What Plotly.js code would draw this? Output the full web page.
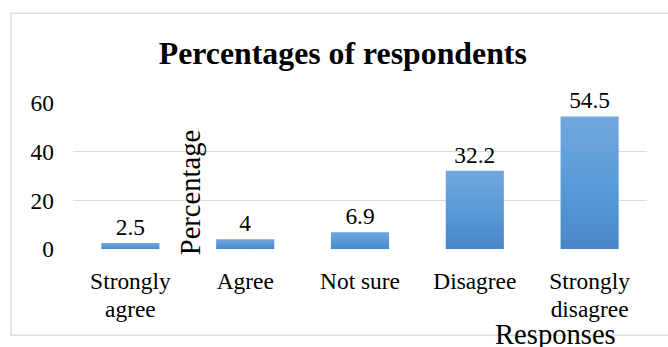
<!DOCTYPE html>
<html>
<head>
<meta charset="utf-8">
<script src="https://cdn.plot.ly/plotly-3.0.1.min.js"></script>
<style>
  html, body { margin: 0; padding: 0; background: #ffffff; }
  #chart { width: 668px; height: 347px; }
</style>
</head>
<body>
<div id="chart"></div>
<script>
// Survey responses and their share of respondents (%)
const categories = ["Strongly agree", "Agree", "Not sure", "Disagree", "Strongly disagree"];
const tickLabels = ["Strongly<br>agree", "Agree", "Not sure", "Disagree", "Strongly<br>disagree"];
const percentages = [2.5, 4, 6.9, 32.2, 54.5];
const yTicks = [0, 20, 40, 60];

const serif = "Liberation Serif, Times New Roman, serif";
const W = 668, H = 347;
const plotL = 73, plotR = 646.7, plotT = 103, plotB = 249.5;
const plotW = plotR - plotL, plotH = plotB - plotT;
// pixel -> paper helpers for the frame and axis titles
const px = x => (x - plotL) / plotW;
const py = y => (plotB - y) / plotH;

const trace = {
  type: "bar",
  x: categories,
  y: percentages,
  text: percentages.map(v => String(v)),
  textposition: "outside",
  textfont: { family: serif, size: 23.4, color: "#000000" },
  constraintext: "none",
  cliponaxis: false,
  marker: { color: "#5b9bd5", line: { width: 0 } },
  hoverinfo: "skip"
};

const layout = {
  width: W,
  height: H,
  margin: { l: plotL, r: W - plotR, t: plotT, b: H - plotB, pad: 0 },
  paper_bgcolor: "#ffffff",
  plot_bgcolor: "#ffffff",
  showlegend: false,
  bargap: 0.494,
  font: { family: serif, color: "#000000" },
  title: {
    text: "<b>Percentages of respondents</b>",
    font: { family: serif, size: 31.8, color: "#000000" },
    x: 342.8 / W,
    xref: "container",
    xanchor: "center",
    y: 1 - 52.7 / H,
    yref: "container",
    yanchor: "middle"
  },
  xaxis: {
    type: "category",
    tickvals: categories,
    ticktext: tickLabels,
    tickfont: { family: serif, size: 23.4, color: "#000000" },
    showgrid: false,
    zeroline: false,
    showline: false,
    ticks: "",
    ticklabelstandoff: 16,
    fixedrange: true
  },
  yaxis: {
    range: [0, 60],
    tickvals: yTicks,
    tickfont: { family: serif, size: 23.4, color: "#000000" },
    showgrid: true,
    gridcolor: "#d9dce1",
    gridwidth: 1.6,
    zeroline: false,
    showline: false,
    ticks: "",
    ticklabelstandoff: 18,
    fixedrange: true
  },
  shapes: [{
    type: "rect",
    xref: "paper", yref: "paper",
    x0: px(11), x1: px(671), y0: py(336), y1: py(13),
    line: { color: "#d9dee4", width: 1.5 },
    fillcolor: "rgba(0,0,0,0)",
    layer: "below"
  }],
  annotations: [
    {
      text: "Percentage",
      xref: "paper", yref: "paper",
      x: px(190), y: py(193.5),
      xanchor: "center", yanchor: "middle",
      textangle: -90,
      showarrow: false,
      font: { family: serif, size: 28.6, color: "#000000" }
    },
    {
      text: "Responses",
      xref: "paper", yref: "paper",
      x: px(555), y: py(335.5),
      xanchor: "center", yanchor: "middle",
      showarrow: false,
      font: { family: serif, size: 28.6, color: "#000000" }
    }
  ]
};

Plotly.newPlot("chart", [trace], layout, { displayModeBar: false, staticPlot: true }).then(gd => {
  // vertical blue gradient on each bar, lighter at the top
  const svgNS = "http://www.w3.org/2000/svg";
  const svg = gd.querySelector(".main-svg");
  let defs = svg.querySelector("defs");
  if (!defs) { defs = document.createElementNS(svgNS, "defs"); svg.insertBefore(defs, svg.firstChild); }
  const grad = document.createElementNS(svgNS, "linearGradient");
  grad.setAttribute("id", "barGradient");
  grad.setAttribute("x1", "0"); grad.setAttribute("y1", "0");
  grad.setAttribute("x2", "0"); grad.setAttribute("y2", "1");
  [["0%", "#72a6dd"], ["50%", "#5a9bd9"], ["100%", "#4886c8"]].forEach(([off, col]) => {
    const s = document.createElementNS(svgNS, "stop");
    s.setAttribute("offset", off);
    s.setAttribute("stop-color", col);
    grad.appendChild(s);
  });
  defs.appendChild(grad);
  gd.querySelectorAll(".bars .point path").forEach(p => { p.style.fill = "url(#barGradient)"; });

  // tighter line spacing for the two-line category labels
  gd.querySelectorAll(".xtick text tspan.line").forEach(t => {
    if (t.getAttribute("dy") === "1.3em") t.setAttribute("dy", "1.175em");
  });
});
</script>
</body>
</html>
